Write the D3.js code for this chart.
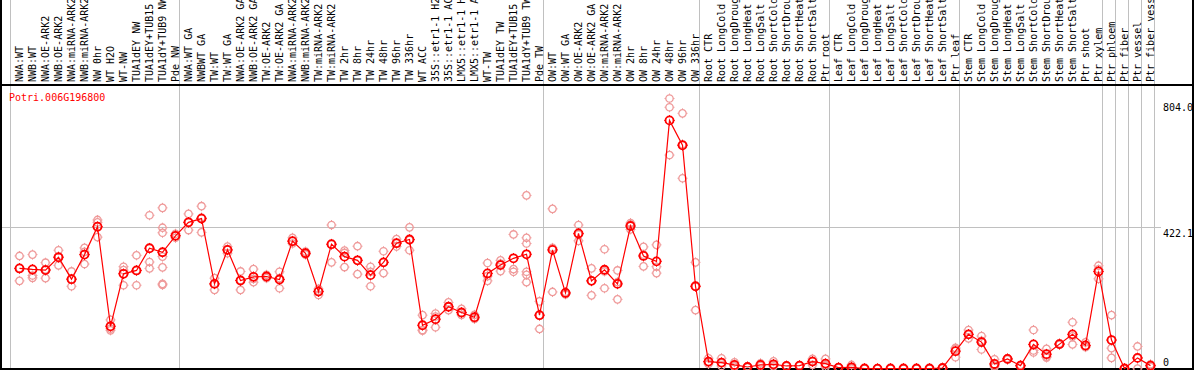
<!DOCTYPE html>
<html>
<head>
<meta charset="utf-8">
<script src="https://cdn.jsdelivr.net/npm/d3@7"></script>
<style>
  html, body { margin: 0; padding: 0; background: #fff; }
  svg { display: block; font-family: 'DejaVu Sans Mono', monospace; }
</style>
</head>
<body>
<div id="chart"></div>
<script>
// sample labels, left to right
const categories = [
  'NWA:WT', 'NWB:WT', 'NWA:OE-ARK2', 'NWB:OE-ARK2', 'NWA:miRNA-ARK2', 'NWB:miRNA-ARK2',
  'NW 0hr', 'WT H2O', 'WT-NW', 'TUA1dEY NW', 'TUA1dEY+TUB15', 'TUA1dY+TUB9 NW', 'Pde NW',
  'NWA:WT GA', 'NWBWT GA', 'TW:WT', 'TW:WT GA', 'NWA:OE-ARK2 GA', 'NWB:OE-ARK2 GA',
  'TW:OE-ARK2', 'TW:OE-ARK2 GA', 'NWA:miRNA-ARK2 GA', 'NWB:miRNA-ARK2 GA', 'TW:miRNA-ARK2',
  'TW:miRNA-ARK2', 'TW 2hr', 'TW 8hr', 'TW 24hr', 'TW 48hr', 'TW 96hr', 'TW 336hr', 'WT ACC',
  '35S::etr1-1 H2O', '35S::etr1-1 ACC', 'LMX5::etr1-1 H2O', 'LMX5::etr1-1 ACC', 'WT-TW',
  'TUA1dEY TW', 'TUA1dEY+TUB15 TW', 'TUA1dY+TUB9 TW', 'Pde TW',
  'OW:WT', 'OW:WT GA', 'OW:OE-ARK2', 'OW:OE-ARK2 GA', 'OW:miRNA-ARK2', 'OW:miRNA-ARK2',
  'OW 2hr', 'OW 8hr', 'OW 24hr', 'OW 48hr', 'OW 96hr', 'OW 336hr',
  'Root CTR', 'Root LongCold', 'Root LongDrought', 'Root LongHeat', 'Root LongSalt',
  'Root ShortCold', 'Root ShortDrought', 'Root ShortHeat', 'Root ShortSalt', 'Ptr root',
  'Leaf CTR', 'Leaf LongCold', 'Leaf LongDrought', 'Leaf LongHeat', 'Leaf LongSalt',
  'Leaf ShortCold', 'Leaf ShortDrought', 'Leaf ShortHeat', 'Leaf ShortSalt', 'Ptr leaf',
  'Stem CTR', 'Stem LongCold', 'Stem LongDrought', 'Stem LongHeat', 'Stem LongSalt',
  'Stem ShortCold', 'Stem ShortDrought', 'Stem ShortHeat', 'Stem ShortSalt', 'Ptr shoot',
  'Ptr xylem', 'Ptr phloem', 'Ptr fiber', 'Ptr vessel', 'Ptr fiber vessel',
];

// mean expression per sample
const means = [
  299, 296, 294, 332, 267, 340, 423, 127, 283, 293,
  359, 347, 396, 436, 447, 253, 354, 263, 274, 275,
  266, 380, 344, 230, 371, 334, 323, 279, 317, 374,
  385, 130, 148, 185, 168, 154, 284, 309, 329, 341,
  160, 354, 226, 403, 262, 295, 253, 425, 336, 320,
  739, 665, 246, 22, 19, 12, 6, 12, 14, 9,
  10, 22, 16, 4, 5, 1.5, 1, 1.5, 1.5, 1.5,
  1.5, 3, 53, 103, 80, 15, 30, 10, 73, 44,
  74, 103, 70, 290, 86, 1.5, 33, 10,
];

// individual replicates per sample
const replicates = [
  [336, 300, 262], [340, 278, 271], [316, 296, 270], [353, 335, 308], [290, 267, 246],
  [360, 348, 312], [443, 436, 392], [146, 120, 115], [304, 294, 249], [338, 293, 249],
  [457, 318, 299], [479, 420, 405, 334, 302, 253, 250], [402, 396, 390], [461, 436, 413],
  [484, 450, 406], [270, 253, 235], [364, 354, 344], [290, 264, 235], [297, 268, 258],
  [280, 275, 270], [289, 270, 240], [390, 380, 373], [349, 344, 340], [238, 232, 220],
  [428, 370, 317], [352, 345, 303], [365, 323, 282], [304, 289, 246], [350, 317, 285],
  [386, 374, 364], [421, 383, 353], [160, 116, 114], [165, 156, 124], [198, 185, 175],
  [179, 167, 161], [161, 151, 149], [315, 276, 262], [323, 313, 291], [400, 297, 289],
  [516, 390, 373, 289, 280, 258], [201, 160, 119], [476, 360, 229], [229, 226, 222],
  [428, 400, 381], [299, 262, 219], [356, 290, 240], [293, 258, 207], [434, 430, 415],
  [363, 340, 305], [369, 304, 285], [804, 778, 636], [760, 668, 567], [317, 245, 175],
  [32, 20, 15], [32, 17, 9], [20, 9, 7], [8, 6, 5], [17, 12, 9], [23, 12, 8], [10, 9, 8],
  [11, 10, 9], [30, 24, 12], [30, 12, 6], [5, 4, 3], [12, 3, 1], [2, 1.5, 1], [1.5, 1, 0.5],
  [2, 1.5, 1], [2, 1.5, 1], [2, 1.5, 1], [2, 1.5, 1], [4, 3, 2], [63, 60, 35],
  [116, 103, 91], [98, 84, 58], [29, 10, 6], [32, 30, 28], [12, 10, 8], [116, 55, 49],
  [60, 37, 34], [76, 74, 72], [139, 97, 73], [79, 66, 65], [307, 296, 268], [160, 62, 33],
  [2, 1.5, 1], [67, 32, 1], [14, 10, 6],
];

// first sample index of each group (vertical separators)
const groupStarts = [0, 13, 41, 53, 63, 73, 84, 85, 86, 87, 88];

const yTicks = [0, 422.1, 804.0];
const yMax = 844.2;
const geneName = 'Potri.006G196800';

const W = 1194, H = 370;
const plotTop = 85, plotBottom = 369, plotLeft = 11, plotRight = 1155;

const svg = d3
  .select('#chart')
  .append('svg')
  .attr('width', W)
  .attr('height', H);

const x = d3
  .scaleBand()
  .domain(d3.range(categories.length))
  .range([plotLeft, plotRight]);

const y = d3.scaleLinear().domain([0, yMax]).range([plotBottom, plotTop]);

const cx = (i) => x(i) + 8.5;

// grid
svg
  .append('g')
  .selectAll('line.vgrid')
  .data(groupStarts)
  .enter()
  .append('line')
  .attr('class', 'vgrid')
  .attr('x1', (d) => (d < categories.length ? x(d) : plotRight) - 0.5)
  .attr('x2', (d) => (d < categories.length ? x(d) : plotRight) - 0.5)
  .attr('y1', 0)
  .attr('y2', plotBottom)
  .attr('stroke', '#c0c0c0')
  .attr('stroke-width', 1);

svg
  .append('line')
  .attr('x1', 1)
  .attr('x2', 1161)
  .attr('y1', Math.round(y(yTicks[1])) + 0.5)
  .attr('y2', Math.round(y(yTicks[1])) + 0.5)
  .attr('stroke', '#c0c0c0')
  .attr('stroke-width', 1);

// frame
const frame = svg.append('g').attr('stroke', '#000').attr('stroke-width', 2);
frame.append('line').attr('x1', 1).attr('x2', 1).attr('y1', 0).attr('y2', plotBottom);
frame.append('line').attr('x1', 1193).attr('x2', 1193).attr('y1', 0).attr('y2', plotBottom);
frame.append('line').attr('x1', 0).attr('x2', W).attr('y1', plotTop).attr('y2', plotTop);
frame.append('line').attr('x1', 0).attr('x2', W).attr('y1', plotBottom).attr('y2', plotBottom);

// sample labels, vertical
svg
  .append('g')
  .selectAll('text.cat')
  .data(categories)
  .enter()
  .append('text')
  .attr('class', 'cat')
  .attr('transform', (d, i) => `translate(${cx(i) + 3.5},82) rotate(-90)`)
  .attr('font-size', 10)
  .attr('fill', '#000')
  .text((d) => d);

// y labels
const yLabelShift = [-3, 10, 12];
svg
  .append('g')
  .selectAll('text.ylab')
  .data(yTicks)
  .enter()
  .append('text')
  .attr('class', 'ylab')
  .attr('x', 1163)
  .attr('y', (d, i) => y(d) + yLabelShift[i])
  .attr('font-size', 10)
  .attr('fill', '#000')
  .text((d) => (d === 0 ? '0' : d.toFixed(1)));

svg
  .append('text')
  .attr('x', 9)
  .attr('y', 101)
  .attr('font-size', 10)
  .attr('fill', '#ff0000')
  .text(geneName);

// circle with small compass ticks
const marker = (g, r, color, sw) => {
  g.append('circle')
    .attr('r', r)
    .attr('fill', 'none')
    .attr('stroke', color)
    .attr('stroke-width', sw);
  g.append('path')
    .attr(
      'd',
      `M0,${-r - 1.3}V${-r}M0,${r}V${r + 1.3}M${-r - 1.3},0H${-r}M${r},0H${r + 1.3}`
    )
    .attr('stroke', color)
    .attr('stroke-width', 1);
};

const repPoints = [];
replicates.forEach((arr, i) => arr.forEach((v) => repPoints.push([i, v])));

svg
  .append('g')
  .selectAll('g.rep')
  .data(repPoints)
  .enter()
  .append('g')
  .attr('class', 'rep')
  .attr('transform', (d) => `translate(${cx(d[0])},${y(d[1])})`)
  .each(function () {
    marker(d3.select(this), 3.7, '#ef9a9a', 1.3);
  });

const line = d3
  .line()
  .x((d, i) => cx(i))
  .y((d) => y(d));

svg
  .append('path')
  .attr('d', line(means))
  .attr('fill', 'none')
  .attr('stroke', '#ff0000')
  .attr('stroke-width', 1.2);

svg
  .append('g')
  .selectAll('g.mean')
  .data(means)
  .enter()
  .append('g')
  .attr('class', 'mean')
  .attr('transform', (d, i) => `translate(${cx(i)},${y(d)})`)
  .each(function () {
    marker(d3.select(this), 4, '#ff0000', 1.8);
  });
</script>
</body>
</html>
